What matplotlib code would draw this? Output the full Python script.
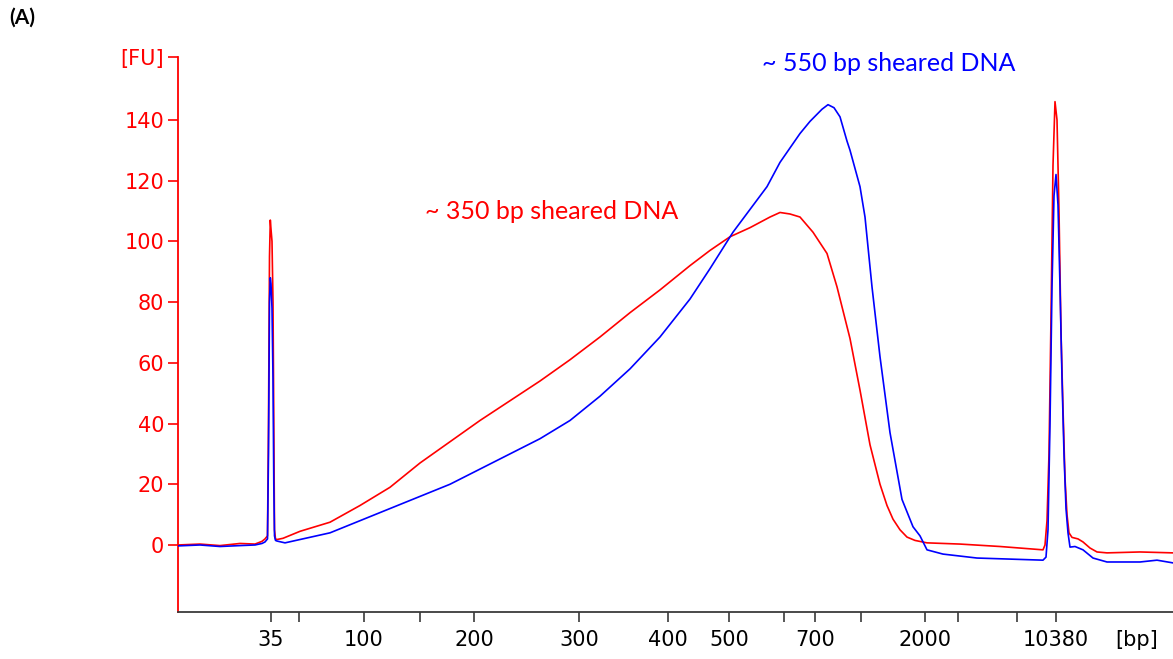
import matplotlib
matplotlib.use("Agg")
import matplotlib.pyplot as plt
from matplotlib.transforms import blended_transform_factory

# Migration time (s) and fluorescence (FU) for the two sheared samples
red_time = [20.0, 22.2, 24.2, 26.2, 27.7, 28.4, 28.7, 28.95, 29.05, 29.15, 29.23, 29.3, 29.4, 29.5,
            29.58, 29.65, 29.75, 29.9, 30.5, 32.2, 35.2, 38.2, 41.2, 44.2, 47.2, 50.2, 53.2, 56.2,
            59.2, 62.2, 65.2, 68.2, 71.2, 73.2, 75.2, 77.2, 79.2, 80.2, 81.2, 82.2, 83.5, 84.9,
            85.9, 87.2, 88.2, 89.2, 90.2, 90.9, 91.5, 92.2, 92.9, 93.7, 94.9, 98.2, 102.2, 106.5,
            106.7, 106.9, 107.1, 107.3, 107.5, 107.7, 107.9, 108.1, 108.3, 108.5, 108.7, 108.9,
            109.1, 109.4, 110.0, 110.5, 111.2, 111.9, 112.9, 116.2, 119.5]
red_fu = [0.0, 0.3, -0.2, 0.5, 0.3, 1.2, 2.0, 3, 40, 95, 107, 104, 100, 80,
          40, 5, 2.0, 1.8, 2.2, 4.5, 7.5, 13, 19, 27, 34, 41, 47.5, 54,
          61, 68.5, 76.5, 84, 92, 97, 101.5, 104.5, 108, 109.5, 109, 108, 103, 96,
          85, 68, 51, 33, 20, 13, 8.5, 5, 2.6, 1.5, 0.7, 0.3, -0.5, -1.6,
          0, 8, 30, 75, 125, 146, 140, 110, 70, 45, 22, 10,
          4, 2.5, 2.0, 1.0, -1.0, -2.3, -2.6, -2.3, -2.6]

blue_time = [20.0, 22.2, 24.2, 26.2, 27.7, 28.4, 28.7, 28.95, 29.05, 29.15, 29.23, 29.3, 29.4, 29.5,
             29.58, 29.65, 29.75, 29.9, 30.7, 32.2, 35.2, 38.2, 41.2, 44.2, 47.2, 50.2, 53.2, 56.2,
             59.2, 62.2, 65.2, 68.2, 71.2, 73.2, 75.5, 78.9, 80.2, 82.2, 83.2, 84.4, 85.0, 85.6,
             86.2, 86.9, 87.2, 88.2, 88.7, 89.4, 90.2, 91.2, 92.4, 93.5, 94.2, 94.9, 96.5, 99.9,
             106.5, 106.8, 107.0, 107.2, 107.4, 107.6, 107.8, 108.0, 108.2, 108.4, 108.6, 108.8,
             109.0, 109.2, 109.7, 110.5, 111.5, 112.9, 116.2, 117.9, 119.5]
blue_fu = [-0.3, 0.0, -0.5, -0.2, 0.0, 0.5, 1.0, 2, 30, 80, 88, 86, 78, 55,
           20, 3, 1.5, 1.3, 0.7, 1.8, 4, 8, 12, 16, 20, 25, 30, 35,
           41, 49, 58, 68.5, 81, 91, 103, 118, 126, 135.5, 139.5, 143.5, 145, 144,
           141, 133, 130, 118, 108, 85, 62, 37, 15, 6, 3, -1.6, -3, -4.3,
           -5, -4, 5, 40, 85, 115, 122, 112, 85, 55, 30, 12,
           4, -0.7, -0.5, -1.6, -4.3, -5.6, -5.6, -5, -5.9]

# Ladder fragments (bp) and their migration times (s)
ladder_bp = [35, 50, 100, 150, 200, 300, 400, 500, 600, 700, 1000, 2000, 3000, 7000, 10380]
ladder_time = [29.3, 32.1, 38.6, 44.2, 49.6, 60.1, 69.0, 75.1, 80.6, 83.7, 88.3, 94.7, 98.0, 103.9, 107.8]
labeled_bp = [35, 100, 200, 300, 400, 500, 700, 2000, 10380]

fu_ticks = [0, 20, 40, 60, 80, 100, 120, 140]
fu_top = 160.7

red_label = "~ 350 bp sheared DNA"
blue_label = "~ 550 bp sheared DNA"

RED = "#ff0000"
BLUE = "#0000ff"

fig = plt.figure(figsize=(11.73, 6.59), dpi=100)
ax = fig.add_axes([178 / 1173, 47 / 659, 1 - 178 / 1173, (612 - 57) / 659])

ax.plot(red_time, red_fu, color=RED, lw=1.2, zorder=2)
ax.plot(blue_time, blue_fu, color=BLUE, lw=1.2, zorder=3)

ax.set_xlim(20.0, 119.5)
ax.set_ylim(-22.07, fu_top)

# y axis: red, with the unit shown at the top tick
ax.set_yticks(fu_ticks + [fu_top])
ax.set_yticklabels([str(v) for v in fu_ticks] + ["[FU]"])
ax.tick_params(axis="y", colors=RED, labelcolor=RED, length=7, width=1.2,
               pad=3, labelsize=15)

# x axis: every ladder fragment gets a tick, only some are labelled
ax.set_xticks(ladder_time)
ax.set_xticklabels([str(b) if b in labeled_bp else "" for b in ladder_bp])
ax.tick_params(axis="x", colors="#3a3a3a", labelcolor="black", length=7, width=1.2,
               pad=6, labelsize=15)

for side in ("top", "right"):
    ax.spines[side].set_visible(False)
ax.spines["left"].set_color(RED)
ax.spines["left"].set_linewidth(1.3)
ax.spines["bottom"].set_color("#3a3a3a")
ax.spines["bottom"].set_linewidth(1.3)

trans = blended_transform_factory(ax.transData, ax.transAxes)
ax.text(115.9, -0.0505, "[bp]", transform=trans, ha="center", va="center",
        fontsize=15, color="black")

ax.text(44.7, 109.7, red_label, color=RED, fontsize=18, family="Lato",
        ha="left", va="center")
ax.text(78.4, 158.4, blue_label, color=BLUE, fontsize=18, family="Lato",
        ha="left", va="center", clip_on=False)

fig.text(9 / 1173, 1 - 18 / 659, "(A)", fontsize=15, fontweight="bold",
         family="Lato", ha="left", va="center")

fig.savefig("out.png", dpi=100, facecolor="white")
